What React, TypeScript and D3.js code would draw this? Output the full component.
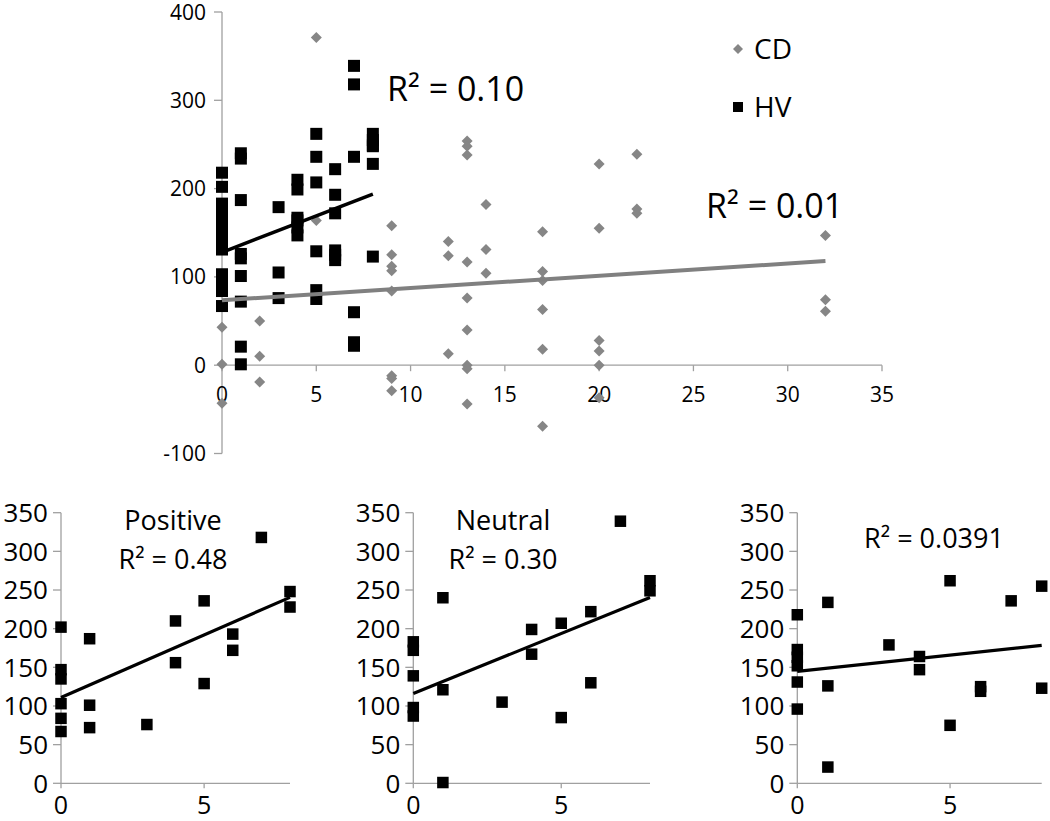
import React from 'react';
import * as d3 from 'd3';

// ---------- data ----------
// Top chart: CD (gray diamonds) [x, y]
const cdPoints: [number, number][] = [
  [0, 43], [0, 1], [0, -43],
  [2, 50], [2, 10], [2, -19],
  [5, 371], [5, 164],
  [9, 158], [9, 125], [9, 112], [9, 107], [9, 84], [9, -12], [9, -15], [9, -29],
  [12, 140], [12, 124], [12, 13],
  [13, 254], [13, 248], [13, 238], [13, 117], [13, 76], [13, 40], [13, 0], [13, -4], [13, -44],
  [14, 182], [14, 131], [14, 104],
  [17, 151], [17, 106], [17, 96], [17, 63], [17, 18], [17, -69],
  [20, 228], [20, 155], [20, 28], [20, 16], [20, 0], [20, -37],
  [22, 239], [22, 177], [22, 172],
  [32, 147], [32, 74], [32, 61],
];
// CD linear trend (value at first and last x) (many CD points hidden under HV)
const cdTrend: [number, number][] = [[0, 73.5], [32, 118]];

// Bottom charts: HV subsets
const positivePoints: [number, number][] = [
  [0, 202], [0, 147], [0, 135], [0, 103], [0, 84], [0, 67],
  [1, 187], [1, 101], [1, 72], [3, 76], [4, 210], [4, 156],
  [5, 236], [5, 129], [6, 193], [6, 172], [7, 318], [8, 248], [8, 228],
];
const neutralPoints: [number, number][] = [
  [0, 183], [0, 172], [0, 139], [0, 98], [0, 87],
  [1, 240], [1, 121], [1, 1], [3, 105], [4, 199], [4, 167],
  [5, 207], [5, 85], [6, 222], [6, 130], [7, 339], [8, 262], [8, 249],
];
const thirdPoints: [number, number][] = [
  [0, 218], [0, 173], [0, 163], [0, 152], [0, 131], [0, 96],
  [1, 234], [1, 126], [1, 21], [3, 179], [4, 164], [4, 147],
  [5, 262], [5, 75], [6, 125], [6, 119], [7, 236], [8, 255], [8, 123],
];
const hvExtraPoints: [number, number][] = [[7, 60], [7, 26], [7, 22]];
const hvPoints = [...positivePoints, ...neutralPoints, ...thirdPoints, ...hvExtraPoints];

// Tick values
const topXTicks = [0, 5, 10, 15, 20, 25, 30, 35];
const topYTicks = [-100, 0, 100, 200, 300, 400];
const botXTicks = [0, 5];
const botYTicks = [0, 50, 100, 150, 200, 250, 300, 350];

// Labels
const topLabels = { hv: 'R² = 0.10', cd: 'R² = 0.01' };
const legendItems = ['CD', 'HV'];
const bottomTitles = ['Positive', 'Neutral', ''];
const bottomR2 = ['R² = 0.48', 'R² = 0.30', 'R² = 0.0391'];

// ---------- helpers ----------
function regress(pts: [number, number][]) {
  const mx = d3.mean(pts, (p) => p[0])!;
  const my = d3.mean(pts, (p) => p[1])!;
  let sxy = 0, sxx = 0;
  pts.forEach(([x, y]) => { sxy += (x - mx) * (y - my); sxx += (x - mx) ** 2; });
  const b = sxy / sxx;
  const a = my - b * mx;
  const ext = d3.extent(pts, (p) => p[0]) as [number, number];
  return ext.map((xv) => [xv, a + b * xv]) as [number, number][];
}

const FONT = "'Open Sans', sans-serif";
const AXIS = '#a0a0a0';
const GRAY = '#868686';

const Square = ({ cx, cy, s }: { cx: number; cy: number; s: number }) => (
  <rect x={cx - s / 2} y={cy - s / 2} width={s} height={s} fill="#000" />
);
const Diamond = ({ cx, cy, r }: { cx: number; cy: number; r: number }) => (
  <path d={`M${cx},${cy - r}L${cx + r},${cy}L${cx},${cy + r}L${cx - r},${cy}Z`} fill={GRAY} />
);

function TopChart() {
  const x = d3.scaleLinear().domain([0, 35]).range([222, 882]);
  const y = d3.scaleLinear().domain([-100, 400]).range([453.5, 12]);
  const hvFit = regress(hvPoints);
  const line = d3.line<[number, number]>().x((d) => x(d[0])).y((d) => y(d[1]));
  return (
    <g>
      {/* axes */}
      <line x1={x(0)} x2={x(0)} y1={y(400)} y2={y(-100)} stroke={AXIS} strokeWidth={1.3} />
      <line x1={x(0)} x2={x(35)} y1={y(0)} y2={y(0)} stroke={AXIS} strokeWidth={1.3} />
      {topYTicks.map((t) => (
        <g key={'y' + t}>
          <line x1={x(0) - 8} x2={x(0)} y1={y(t)} y2={y(t)} stroke={AXIS} strokeWidth={1.3} />
          <text x={x(0) - 16} y={y(t)} dy="0.36em" textAnchor="end" fontSize={21} fontFamily={FONT}>{t}</text>
        </g>
      ))}
      {topXTicks.map((t) => (
        <g key={'x' + t}>
          <line x1={x(t)} x2={x(t)} y1={y(0)} y2={y(0) + 6} stroke={AXIS} strokeWidth={1.3} />
          <text x={x(t)} y={y(0) + 37} textAnchor="middle" fontSize={21} fontFamily={FONT}>{t}</text>
        </g>
      ))}
      {/* CD points */}
      {cdPoints.map((p, i) => <Diamond key={'cd' + i} cx={x(p[0])} cy={y(p[1])} r={5.5} />)}
      {/* HV points */}
      {hvPoints.map((p, i) => <Square key={'hv' + i} cx={x(p[0])} cy={y(p[1])} s={12} />)}
      {/* trend lines */}
      <path d={line(cdTrend)!} stroke="#808080" strokeWidth={4} fill="none" />
      <path d={line(hvFit)!} stroke="#000" strokeWidth={3.5} fill="none" />
      {/* labels */}
      <text x={387} y={101} fontSize={34} fontFamily={FONT}>{topLabels.hv}</text>
      <text x={706} y={218} fontSize={34} fontFamily={FONT}>{topLabels.cd}</text>
      {/* legend */}
      <Diamond cx={738} cy={49} r={5} />
      <text x={754} y={59} fontSize={28} fontFamily={FONT}>{legendItems[0]}</text>
      <Square cx={738} cy={107} s={10} />
      <text x={754} y={117} fontSize={28} fontFamily={FONT}>{legendItems[1]}</text>
    </g>
  );
}

function BottomChart({ pts, x0, x1, title, r2, labelX }: { pts: [number, number][]; x0: number; x1: number; title: string; r2: string; labelX: number }) {
  const x = d3.scaleLinear().domain([0, 8]).range([x0, x1]);
  const y = d3.scaleLinear().domain([0, 350]).range([783.3, 512.7]);
  const fit = regress(pts);
  const line = d3.line<[number, number]>().x((d) => x(d[0])).y((d) => y(d[1]));
  return (
    <g>
      <line x1={x(0)} x2={x(0)} y1={y(350)} y2={y(0)} stroke={AXIS} strokeWidth={1.3} />
      <line x1={x(0)} x2={x(8)} y1={y(0)} y2={y(0)} stroke={AXIS} strokeWidth={1.3} />
      {botYTicks.map((t) => (
        <g key={'y' + t}>
          <line x1={x(0) - 8} x2={x(0)} y1={y(t)} y2={y(t)} stroke={AXIS} strokeWidth={1.3} />
          <text x={x(0) - 13} y={y(t)} dy="0.36em" textAnchor="end" fontSize={26} fontFamily={FONT}>{t}</text>
        </g>
      ))}
      {botXTicks.map((t) => (
        <g key={'x' + t}>
          <line x1={x(t)} x2={x(t)} y1={y(0)} y2={y(0) + 5} stroke={AXIS} strokeWidth={1.3} />
          <text x={x(t)} y={y(0) + 31} textAnchor="middle" fontSize={25} fontFamily={FONT}>{t}</text>
        </g>
      ))}
      {pts.map((p, i) => <Square key={i} cx={x(p[0])} cy={y(p[1])} s={11.5} />)}
      <path d={line(fit)!} stroke="#000" strokeWidth={3.2} fill="none" />
      {title ? (
        <>
          <text x={labelX} y={530} textAnchor="middle" fontSize={27} fontFamily={FONT}>{title}</text>
          <text x={labelX} y={569} textAnchor="middle" fontSize={27} fontFamily={FONT}>{r2}</text>
        </>
      ) : (
        <text x={labelX} y={548} textAnchor="middle" fontSize={27} fontFamily={FONT}>{r2}</text>
      )}
    </g>
  );
}

export default function App() {
  return (
    <svg width={1050} height={821} style={{ position: 'absolute', left: 0, top: 0, background: '#fff' }}>
      <rect width={1050} height={821} fill="#fff" />
      <TopChart />
      <BottomChart pts={positivePoints} x0={61} x1={290} title={bottomTitles[0]} r2={bottomR2[0]} labelX={173} />
      <BottomChart pts={neutralPoints} x0={413.3} x1={650} title={bottomTitles[1]} r2={bottomR2[1]} labelX={503} />
      <BottomChart pts={thirdPoints} x0={797.3} x1={1041.7} title={bottomTitles[2]} r2={bottomR2[2]} labelX={934} />
    </svg>
  );
}
